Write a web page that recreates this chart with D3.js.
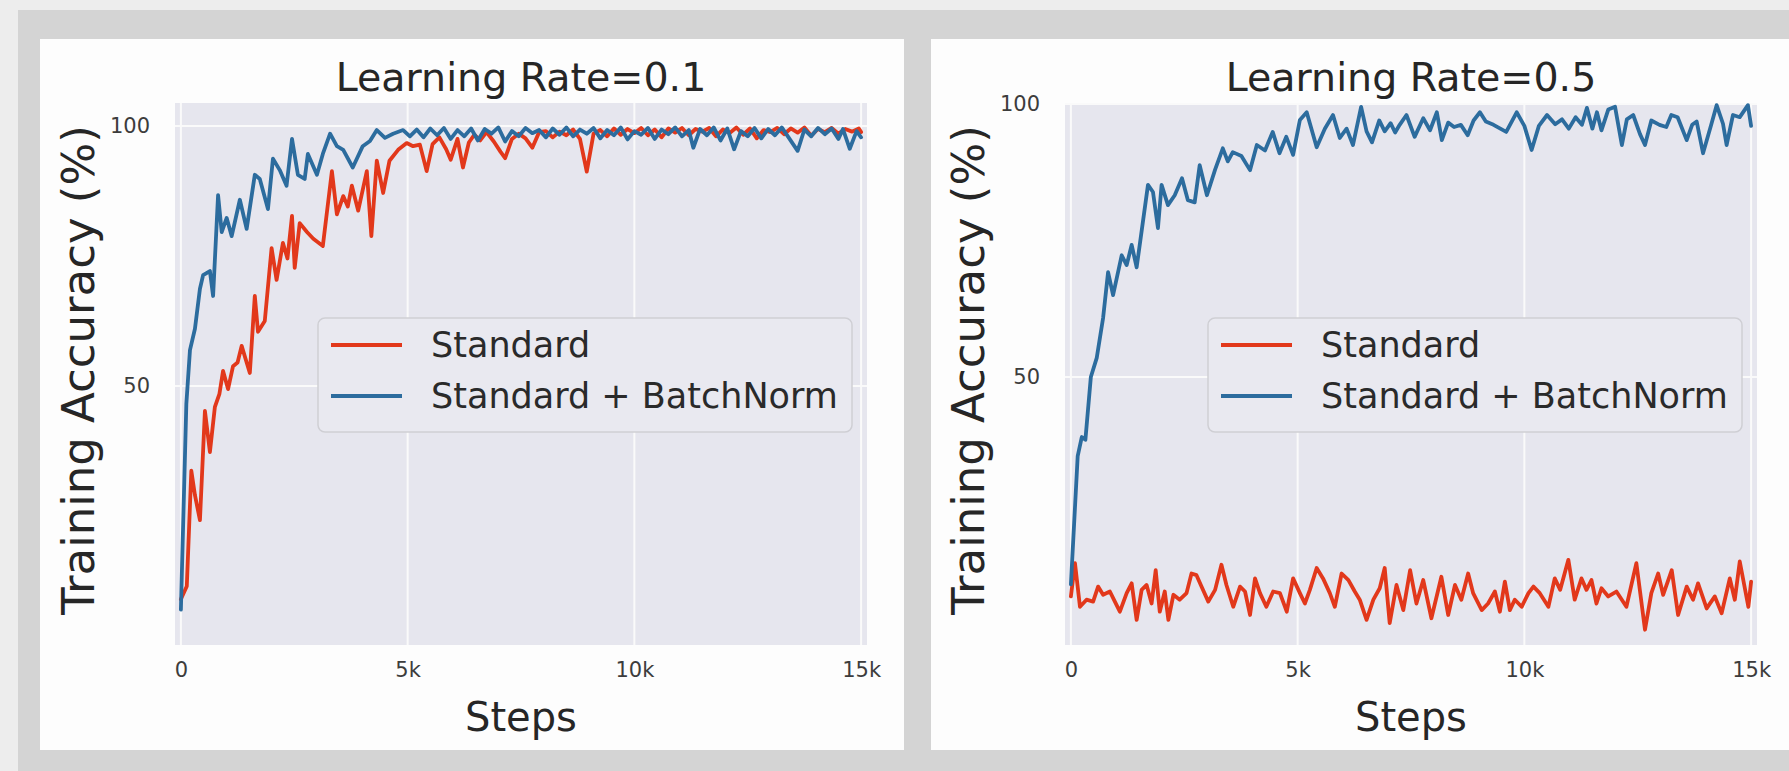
<!DOCTYPE html>
<html>
<head>
<meta charset="utf-8">
<script src="https://cdn.jsdelivr.net/npm/d3@7"></script>
<style>
  html, body { margin: 0; padding: 0; background: #ededed; }
  svg { display: block; font-family: "DejaVu Sans", sans-serif; }
</style>
</head>
<body>
<svg id="chart" width="1789" height="771"></svg>
<script>
// ---- data -------------------------------------------------------------
const panelTitles = ["Learning Rate=0.1", "Learning Rate=0.5"];
const seriesNames = ["Standard", "Standard + BatchNorm"];
const stepTicks = [0, 5000, 10000, 15000];
const stepTickLabels = ["0", "5k", "10k", "15k"];
const accTicks = [50, 100];
const accTickLabels = ["50", "100"];

// [training step, accuracy %]
const lr01Standard = [[0,9],[130,11.5],[230,33.7],[310,29],[420,24.2],[530,45.2],[640,37.3],[750,46],[850,48.5],[930,52.9],[1040,49.4],[1150,53.8],[1250,54.5],[1340,57.7],[1520,52.5],[1630,67.3],[1700,60.4],[1850,62.5],[2000,76.5],[2110,70.4],[2250,77.5],[2350,74.5],[2450,82.7],[2510,72.7],[2620,81.3],[2780,79.6],[2920,78.3],[3130,76.9],[3330,91.3],[3440,83],[3580,86.5],[3680,84.5],[3770,88.5],[3910,83.7],[4100,91.3],[4200,78.8],[4320,93.3],[4460,87.1],[4600,93.3],[4790,95.4],[4980,96.7],[5120,96.1],[5270,96.4],[5420,91.3],[5550,96.5],[5700,97.8],[5850,95.5],[5950,93.5],[6100,97.5],[6220,92],[6350,96.8],[6470,98.3],[6600,97.2],[6740,98.8],[6900,97],[7050,95],[7150,93.8],[7300,97.5],[7450,98.5],[7600,97.6],[7750,95.8],[7900,98.8],[8050,99],[8200,97.8],[8350,98.9],[8500,98.2],[8650,99.3],[8800,97.5],[8950,91.2],[9100,98.5],[9250,99.2],[9400,98],[9550,99.5],[9700,98.3],[9850,99.4],[10000,98.6],[10150,99.6],[10300,98.2],[10450,99.3],[10600,97.8],[10750,99.5],[10900,98.7],[11050,99.6],[11200,98.2],[11350,99.4],[11500,98.9],[11650,99.6],[11800,98],[11950,99.3],[12100,98.6],[12250,99.7],[12400,98.3],[12550,99.5],[12700,97.6],[12850,99.2],[13000,98.8],[13150,99.6],[13300,98.4],[13450,99.5],[13600,98.7],[13750,99.7],[13900,98.1],[14050,99.4],[14200,98.8],[14350,99.6],[14500,98.5],[14650,99.4],[14800,98.9],[14950,99.5],[15000,98.8]];

const lr01BatchNorm = [[0,7],[120,46.5],[200,56.9],[310,61],[420,68.7],[490,71.3],[640,72.1],[710,67.3],[820,86.7],[900,79.6],[1010,82.3],[1120,78.8],[1300,85.8],[1450,80.2],[1630,90.6],[1740,89.8],[1920,84],[2030,93.7],[2180,91.5],[2330,88.5],[2450,97.5],[2580,90.6],[2730,89.8],[2800,94.6],[3000,90.6],[3130,94.6],[3290,98.5],[3440,96.1],[3580,95.4],[3790,92],[4010,96.1],[4170,97.1],[4320,99.2],[4500,97.7],[4680,98.5],[4900,99.2],[5050,98],[5200,99.3],[5350,97.8],[5500,99.5],[5650,98.2],[5800,99.6],[5950,97.5],[6100,99.2],[6250,98],[6400,99.5],[6550,97.2],[6700,99.4],[6850,98.5],[7000,99.7],[7150,97],[7300,99],[7450,98],[7600,99.6],[7750,98.6],[7900,99.2],[8050,97.8],[8200,99.5],[8350,98.3],[8500,99.7],[8650,98],[8800,99.3],[8950,98.5],[9100,99.6],[9250,97.6],[9400,99.2],[9550,98.2],[9700,99.7],[9850,97.4],[10000,99],[10150,98.3],[10300,99.6],[10450,97.5],[10600,99.3],[10750,98.4],[10900,99.7],[11050,98],[11200,99.2],[11300,95.8],[11450,99.4],[11600,98.2],[11750,99.7],[11900,97.2],[12050,99.5],[12200,95.5],[12350,99],[12500,98],[12650,99.6],[12800,97.6],[12950,99.4],[13100,98.2],[13250,99.7],[13400,97.8],[13600,95.2],[13750,99.3],[13900,98],[14050,99.6],[14200,98.4],[14350,99.5],[14500,97.5],[14600,99.4],[14750,95.6],[14900,99],[15000,97.8]];

const lr05Standard = [[0,9.8],[90,15.9],[200,7.9],[345,9.2],[490,8.85],[600,11.6],[710,10.1],[860,10.7],[970,8.85],[1080,7],[1230,10.4],[1340,12.2],[1450,5.5],[1560,11],[1670,11.9],[1780,8.5],[1870,14.6],[1960,7],[2070,10.7],[2150,5.5],[2260,10.1],[2400,9.2],[2550,10.4],[2660,14],[2770,13.7],[2880,11.6],[3030,8.85],[3180,11],[3320,15.6],[3430,11.9],[3580,7.9],[3730,11.6],[3840,10.7],[3950,6.4],[4060,13.1],[4170,10.4],[4310,7.9],[4460,10.7],[4610,10.4],[4760,7],[4900,13.1],[5050,10.4],[5160,8.5],[5270,11],[5420,15],[5560,13.1],[5710,10.4],[5820,7.9],[5970,14],[6120,12.8],[6260,10.7],[6370,9.2],[6520,5.5],[6670,9.2],[6810,11.3],[6920,15],[7030,4.9],[7180,11.9],[7330,7.3],[7480,14.6],[7620,8.5],[7770,12.8],[7950,5.8],[8170,13.4],[8320,6.4],[8470,11.9],[8610,9.2],[8760,14],[8870,10.4],[9060,7.3],[9200,8.5],[9350,10.7],[9460,7],[9570,12.5],[9680,7.3],[9790,9.2],[9940,7.9],[10090,10.4],[10200,11.6],[10340,10.4],[10530,7.9],[10670,13.1],[10790,11],[10970,16.5],[11110,9.2],[11260,13.1],[11370,11],[11480,12.8],[11590,8.5],[11700,11.3],[11850,9.8],[12030,10.7],[12250,7.9],[12470,15.9],[12660,3.7],[12800,10.4],[12950,14],[13060,10.1],[13250,14.6],[13390,6.4],[13580,11.6],[13720,9.2],[13830,12.2],[14020,7.6],[14200,9.8],[14350,6.7],[14530,13.1],[14640,9.2],[14750,16.2],[14940,7.9],[15000,12.5]];

const lr05BatchNorm = [[0,12],[150,35.5],[240,39],[320,38.5],[440,50],[570,53.5],[710,60.8],[820,69.2],[930,65],[1120,72.3],[1230,70.5],[1340,74.2],[1450,70.1],[1700,85.2],[1810,83.9],[1920,77.3],[2000,85.2],[2140,81.5],[2290,83.3],[2450,86.4],[2580,82.4],[2730,82],[2840,88.8],[3000,83.3],[3180,88],[3350,91.9],[3460,89.5],[3570,91.2],[3760,90.5],[3950,87.9],[4100,92.5],[4280,91.5],[4450,94.9],[4600,91],[4750,94],[4900,90.7],[5050,97.1],[5200,98.5],[5420,92.1],[5600,95.5],[5780,98],[5930,93.8],[6080,95.5],[6220,92.5],[6400,99.5],[6520,95],[6640,93],[6800,97],[6920,95],[7050,96.5],[7150,94.8],[7250,96.2],[7400,98],[7580,94],[7770,97.4],[7920,95.2],[8070,98.5],[8180,93.4],[8320,96.6],[8450,95.8],[8600,96.2],[8750,94.3],[8880,97],[9020,98.5],[9150,96.8],[9320,96.2],[9600,94.9],[9830,98.5],[10000,96],[10160,91.6],[10320,96],[10500,98],[10680,96.3],[10830,97.2],[10980,95.5],[11130,97.6],[11270,96.2],[11380,99.3],[11500,95.5],[11600,98.5],[11700,95.2],[11850,99],[12000,99.5],[12150,92.5],[12260,97.2],[12400,98],[12550,94.5],[12660,92.5],[12800,97],[12980,96.2],[13130,95.8],[13240,98],[13380,97.6],[13580,93.4],[13700,96.2],[13800,96.8],[13940,91],[14120,96.2],[14240,99.8],[14380,96.4],[14460,92.5],[14600,98],[14750,97.6],[14930,99.8],[15000,96]];

// ---- layout -----------------------------------------------------------
const colors = ["#e2381b", "#2c6c9e"];
const panels = [
  { title: panelTitles[0], series: [lr01Standard, lr01BatchNorm],
    card: { x: 40, y: 39, w: 864, h: 711 },
    plot: { x: 175, y: 103, w: 692, h: 542 }, yDomain: [0.2, 104.4] },
  { title: panelTitles[1], series: [lr05Standard, lr05BatchNorm],
    card: { x: 931, y: 39, w: 870, h: 711 },
    plot: { x: 1065, y: 103, w: 692, h: 542 }, yDomain: [0.9, 100.2] }
];

const svg = d3.select("#chart");

// backdrop
svg.append("rect").attr("x", 0).attr("y", 0).attr("width", 1789).attr("height", 771).attr("fill", "#ededed");
svg.append("rect").attr("x", 18).attr("y", 10).attr("width", 1771).attr("height", 761).attr("fill", "#d4d4d4");

panels.forEach((p, pi) => {
  const g = svg.append("g");

  // white card
  g.append("rect")
    .attr("x", p.card.x).attr("y", p.card.y)
    .attr("width", p.card.w).attr("height", p.card.h)
    .attr("fill", "#fdfdfd");

  const x = d3.scaleLinear().domain([-130, 15130]).range([p.plot.x, p.plot.x + p.plot.w]);
  const y = d3.scaleLinear().domain(p.yDomain).range([p.plot.y + p.plot.h, p.plot.y]);

  // axes background
  g.append("rect")
    .attr("x", p.plot.x).attr("y", p.plot.y)
    .attr("width", p.plot.w).attr("height", p.plot.h)
    .attr("fill", "#e6e6ee");

  // grid lines
  g.append("g").selectAll("line").data(stepTicks).join("line")
    .attr("x1", d => x(d)).attr("x2", d => x(d))
    .attr("y1", p.plot.y).attr("y2", p.plot.y + p.plot.h)
    .attr("stroke", "#fafafa").attr("stroke-width", 2);
  g.append("g").selectAll("line").data(accTicks).join("line")
    .attr("x1", p.plot.x).attr("x2", p.plot.x + p.plot.w)
    .attr("y1", d => y(d)).attr("y2", d => y(d))
    .attr("stroke", "#fafafa").attr("stroke-width", 2);

  // axes (tick labels only, no domain lines or tick marks)
  const xAxis = d3.axisBottom(x).tickValues(stepTicks)
    .tickFormat((d, i) => stepTickLabels[i]).tickSize(0).tickPadding(17);
  const gx = g.append("g").attr("transform", `translate(0,${p.plot.y + p.plot.h})`).call(xAxis);
  gx.select(".domain").remove();
  gx.selectAll("text").attr("font-size", 21).attr("fill", "#3c3c3c")
    .attr("font-family", "DejaVu Sans, sans-serif");

  const yAxis = d3.axisLeft(y).tickValues(accTicks)
    .tickFormat((d, i) => accTickLabels[i]).tickSize(0).tickPadding(25);
  const gy = g.append("g").attr("transform", `translate(${p.plot.x},0)`).call(yAxis);
  gy.select(".domain").remove();
  gy.selectAll("text").attr("font-size", 21).attr("fill", "#3c3c3c")
    .attr("font-family", "DejaVu Sans, sans-serif");

  // series lines
  const clipId = "clip" + pi;
  g.append("clipPath").attr("id", clipId).append("rect")
    .attr("x", p.plot.x).attr("y", p.plot.y).attr("width", p.plot.w).attr("height", p.plot.h);
  const line = d3.line().x(d => x(d[0])).y(d => y(d[1]));
  const lg = g.append("g").attr("clip-path", `url(#${clipId})`);
  p.series.forEach((s, si) => {
    lg.append("path").datum(s)
      .attr("d", line)
      .attr("fill", "none")
      .attr("stroke", colors[si])
      .attr("stroke-width", 3.8)
      .attr("stroke-linejoin", "round")
      .attr("stroke-linecap", "round");
  });

  // title and axis labels
  const cx = p.plot.x + p.plot.w / 2;
  g.append("text").attr("x", cx).attr("y", 91)
    .attr("text-anchor", "middle").attr("font-size", 39.5).attr("fill", "#262626")
    .text(p.title);
  g.append("text").attr("x", cx).attr("y", 731)
    .attr("text-anchor", "middle").attr("font-size", 40).attr("fill", "#262626")
    .text("Steps");
  g.append("text")
    .attr("transform", `translate(${p.plot.x - 97},${p.plot.y + p.plot.h / 2 - 4}) rotate(-90)`)
    .attr("text-anchor", "middle").attr("dominant-baseline", "central")
    .attr("font-size", 45).attr("fill", "#262626")
    .text("Training Accuracy (%)");

  // legend
  const lx = p.plot.x + 143, ly = p.plot.y + 215;
  const leg = g.append("g").attr("transform", `translate(${lx},${ly})`);
  leg.append("rect").attr("width", 534).attr("height", 114).attr("rx", 7)
    .attr("fill", "#e9e9f0").attr("stroke", "#cfcfd4").attr("stroke-width", 1.5);
  seriesNames.forEach((name, i) => {
    const ry = 27 + i * 51;
    leg.append("line").attr("x1", 13).attr("x2", 84).attr("y1", ry).attr("y2", ry)
      .attr("stroke", colors[i]).attr("stroke-width", 3.8);
    leg.append("text").attr("x", 113).attr("y", ry).attr("dominant-baseline", "central")
      .attr("font-size", 35).attr("fill", "#2a2a2a").text(name);
  });
});
</script>
</body>
</html>
